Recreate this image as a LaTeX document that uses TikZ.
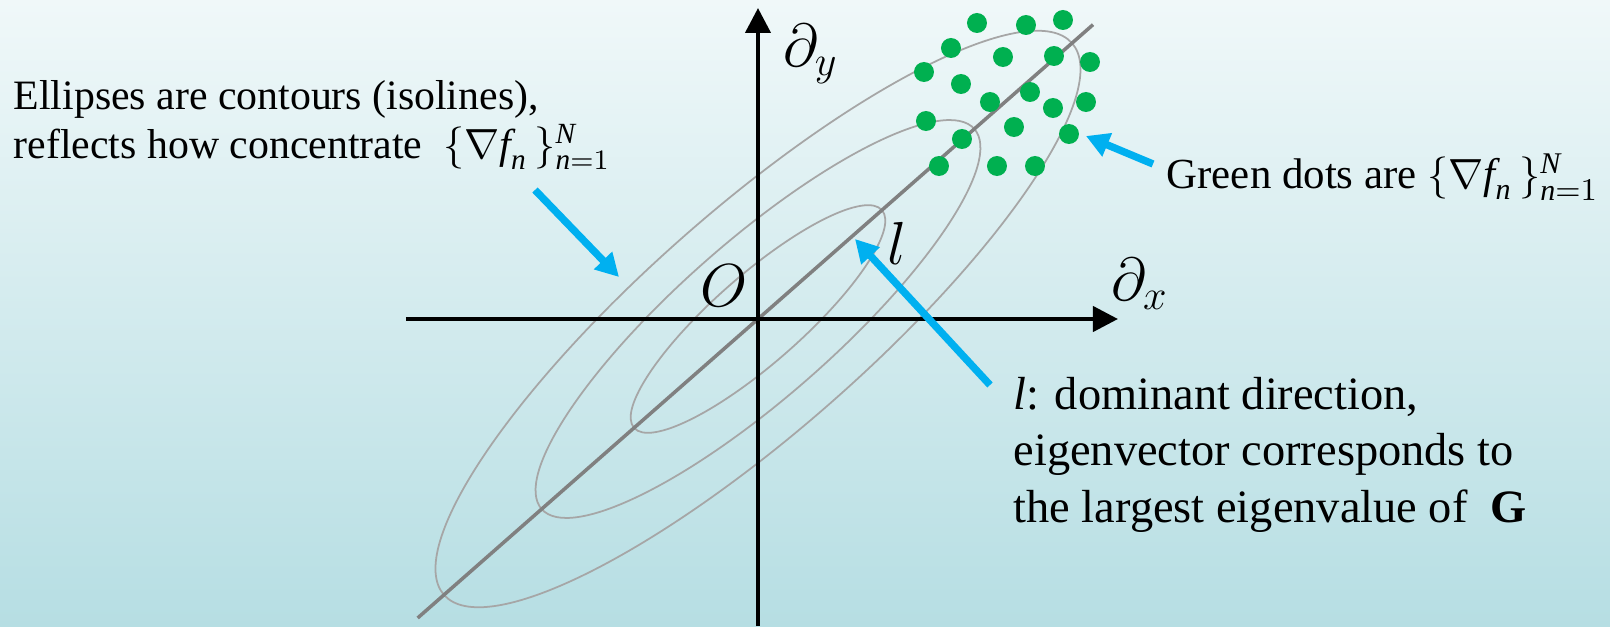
\documentclass[tikz,border=0pt]{standalone}
\usepackage{amsmath}
\usepackage{fontspec}
\setmainfont{Liberation Serif}
\usetikzlibrary{arrows.meta}

\definecolor{hgoben}{RGB}{240,248,249}
\definecolor{hgmitte}{RGB}{202,233,236}
\definecolor{hgunten}{RGB}{182,222,227}
\definecolor{pfeilblau}{RGB}{0,176,240}
\definecolor{punktgruen}{RGB}{0,176,80}
\definecolor{ellgrau}{RGB}{166,166,166}
\definecolor{liniegrau}{RGB}{128,128,128}

\newcommand{\gradmenge}{$\{\nabla\textit{f}_{\textit{n}}\,\}_{\textit{n}=1}^{\textit{N}}$}

\begin{document}
\begin{tikzpicture}[
        achse/.style={line width=1.2pt, -{Triangle[length=2.5mm,width=2.5mm]}},
        hoehenlinie/.style={draw=ellgrau, line width=0.5pt},
        hinweis/.style={pfeilblau, line width=2.1pt, -{Triangle[length=2.3mm,width=2.4mm]}},
        punkt/.style={fill=punktgruen},
        beschriftung/.style={font=\fontsize{12.2}{15}\selectfont, inner sep=0pt, align=left},
        symbol/.style={font=\fontsize{17}{20}\selectfont, inner sep=0pt},
    ]
            % Hintergrund:
            \shade[top color=hgoben, middle color=hgmitte, bottom color=hgunten]
                (-7.58,-3.07) rectangle (8.52,3.19);
            \useasboundingbox (-7.58,-3.07) rectangle (8.52,3.19);

            % Hoehenlinien:
            \foreach \a/\b in {1.65/0.44, 2.88/0.78, 4.18/1.11}
                \draw[hoehenlinie, rotate=41.3] (0,0) ellipse ({\a} and {\b});

            % Hauptrichtung l:
            \coordinate (lunten) at (221.3:4.53);
            \coordinate (loben) at (41.3:4.46);
            \draw[liniegrau, line width=1pt] (lunten) -- (loben);

            % Achsen:
            \coordinate (xlinks) at (-3.52,0);
            \coordinate (xrechts) at (3.60,0);
            \coordinate (yunten) at (0,-3.07);
            \coordinate (yoben) at (0,3.11);
            \draw[achse] (xlinks) -- (xrechts);
            \draw[achse] (yunten) -- (yoben);

            \node[symbol] (ylabel) at (0.53,2.65) {$\partial_y$};
            \node[symbol] (xlabel) at (3.82,0.35) {$\partial_x$};
            \node[symbol] (olabel) at (-0.34,0.33) {$O$};
            \node[symbol] (llabel) at (1.39,0.76) {$l$};

            % Gradienten:
            \foreach \p in {(2.19,2.96), (2.68,2.94), (3.05,2.99), (1.93,2.71),
                            (2.45,2.62), (2.96,2.63), (3.32,2.57), (1.66,2.47),
                            (2.03,2.35), (2.72,2.27), (2.32,2.17), (2.95,2.11),
                            (3.28,2.17), (1.68,1.98), (2.56,1.92), (3.11,1.85),
                            (2.04,1.80), (1.81,1.53), (2.39,1.53), (2.77,1.53)}
                \fill[punkt] \p circle (0.1);

            % Texte:
            \node[beschriftung, font=\fontsize{11.9}{14}\selectfont, anchor=base west]
                (ellipsentext) at (-7.45,1.60)
                {Ellipses are contours (isolines),\\
                 reflects how concentrate \ \gradmenge};
            \node[beschriftung, anchor=base west] (punkttext) at (4.08,1.30)
                {Green dots are \gradmenge};
            \node[beschriftung, font=\fontsize{13.2}{16}\selectfont, anchor=base west]
                (ltext) at (2.55,-2.03)
                {\textit{l}: dominant direction,\\
                 eigenvector corresponds to\\
                 the largest eigenvalue of \ \textbf{G}};

            % Hinweispfeile:
            \coordinate (p1start) at (-2.23,1.29);
            \coordinate (p1ziel) at (-1.39,0.42);
            \coordinate (p2start) at (3.95,1.55);
            \coordinate (p2ziel) at (3.28,1.83);
            \coordinate (p3start) at (2.32,-0.66);
            \coordinate (p3ziel) at (0.97,0.80);
            \draw[hinweis] (p1start) -- (p1ziel);
            \draw[hinweis] (p2start) -- (p2ziel);
            \draw[hinweis] (p3start) -- (p3ziel);

\end{tikzpicture}
\end{document}
